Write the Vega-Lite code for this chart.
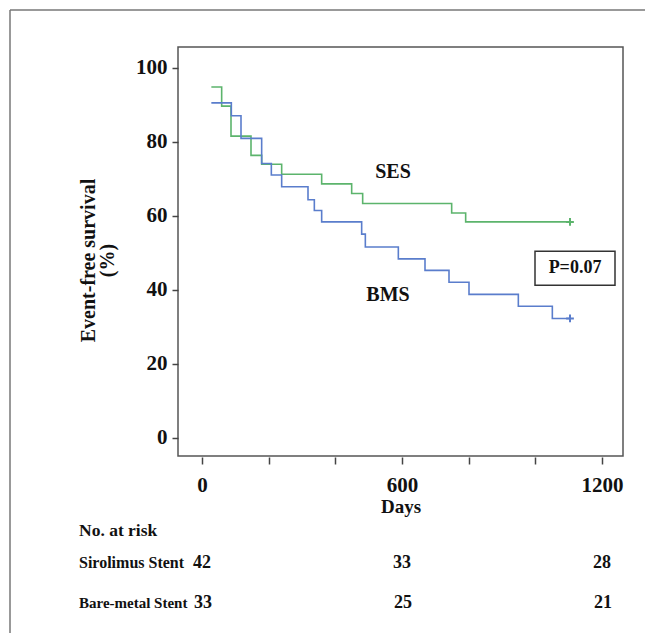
{
  "$schema": "https://vega.github.io/schema/vega-lite/v6.json",
  "width": 445,
  "height": 409,
  "autosize": {"type": "none"},
  "padding": {"left": 178, "top": 47, "right": 22, "bottom": 177},
  "background": "white",
  "config": {
    "view": {"stroke": "#555555", "strokeWidth": 1.5},
    "font": "Liberation Serif",
    "text": {"font": "Liberation Serif", "fontWeight": "bold", "color": "#111111"}
  },
  "datasets": {
    "km": [
      {"group": "SES", "day": 28, "surv": 94.8},
      {"group": "SES", "day": 59, "surv": 89.6},
      {"group": "SES", "day": 87, "surv": 81.5},
      {"group": "SES", "day": 147, "surv": 76.3},
      {"group": "SES", "day": 179, "surv": 73.9},
      {"group": "SES", "day": 239, "surv": 71.2},
      {"group": "SES", "day": 359, "surv": 68.6},
      {"group": "SES", "day": 449, "surv": 66.0},
      {"group": "SES", "day": 482, "surv": 63.3},
      {"group": "SES", "day": 749, "surv": 60.7},
      {"group": "SES", "day": 791, "surv": 58.3},
      {"group": "SES", "day": 1104, "surv": 58.3},
      {"group": "BMS", "day": 28, "surv": 90.5},
      {"group": "BMS", "day": 88, "surv": 87.0},
      {"group": "BMS", "day": 117, "surv": 80.9},
      {"group": "BMS", "day": 179, "surv": 74.1},
      {"group": "BMS", "day": 208, "surv": 71.0},
      {"group": "BMS", "day": 239, "surv": 67.8},
      {"group": "BMS", "day": 318, "surv": 64.3},
      {"group": "BMS", "day": 337, "surv": 61.4},
      {"group": "BMS", "day": 359, "surv": 58.3},
      {"group": "BMS", "day": 479, "surv": 55.0},
      {"group": "BMS", "day": 490, "surv": 51.5},
      {"group": "BMS", "day": 589, "surv": 48.3},
      {"group": "BMS", "day": 669, "surv": 45.2},
      {"group": "BMS", "day": 741, "surv": 42.0},
      {"group": "BMS", "day": 801, "surv": 38.7},
      {"group": "BMS", "day": 949, "surv": 35.5},
      {"group": "BMS", "day": 1051, "surv": 32.2},
      {"group": "BMS", "day": 1104, "surv": 32.2}
    ],
    "censor": [
      {"group": "SES", "day": 1104, "surv": 58.3},
      {"group": "BMS", "day": 1104, "surv": 32.2}
    ],
    "risk": [
      {"group": "Sirolimus Stent", "day": 0, "n": 42},
      {"group": "Sirolimus Stent", "day": 600, "n": 33},
      {"group": "Sirolimus Stent", "day": 1200, "n": 28},
      {"group": "Bare-metal Stent", "day": 0, "n": 33},
      {"group": "Bare-metal Stent", "day": 600, "n": 25},
      {"group": "Bare-metal Stent", "day": 1200, "n": 21}
    ],
    "one": [{}]
  },
  "layer": [
    {
      "data": {"name": "km"},
      "mark": {"type": "line", "interpolate": "step-after", "strokeWidth": 1.6},
      "encoding": {
        "x": {
          "field": "day", "type": "quantitative",
          "scale": {"domain": [-72, 1263], "nice": false, "zero": false},
          "axis": {
            "title": "Days", "values": [0, 200, 400, 600, 800, 1000, 1200],
            "labelExpr": "datum.value % 600 === 0 ? datum.label : ''",
            "format": "d",
            "grid": false, "domain": false, "offset": 1,
            "tickSize": 7, "tickWidth": 1.5, "tickColor": "#444444",
            "labelFont": "Liberation Serif", "labelFontWeight": "bold", "labelFontSize": 21, "labelColor": "#111111", "labelPadding": 10,
            "titleFont": "Liberation Serif", "titleFontWeight": "bold", "titleFontSize": 19, "titleColor": "#111111", "titlePadding": 2
          }
        },
        "y": {
          "field": "surv", "type": "quantitative",
          "scale": {"domain": [-5, 105.6], "nice": false, "zero": false},
          "axis": {
            "title": ["Event-free survival", "(%)"], "values": [0, 20, 40, 60, 80, 100],
            "grid": false, "domain": false,
            "tickSize": 6, "tickWidth": 1.5, "tickColor": "#444444",
            "labelFont": "Liberation Serif", "labelFontWeight": "bold", "labelFontSize": 21, "labelColor": "#111111", "labelPadding": 5,
            "titleFont": "Liberation Serif", "titleFontWeight": "bold", "titleFontSize": 20, "titleColor": "#111111", "titlePadding": 18, "titleLineHeight": 19, "titleY": 213
          }
        },
        "color": {
          "field": "group", "type": "nominal",
          "scale": {"domain": ["SES", "BMS"], "range": ["#5cb46c", "#5a7dcc"]},
          "legend": null
        }
      }
    },
    {
      "data": {"name": "censor"},
      "mark": {"type": "point", "shape": "M-1,0H1M0,-1V1", "size": 60, "filled": false, "strokeWidth": 2, "opacity": 1},
      "encoding": {
        "x": {"field": "day", "type": "quantitative"},
        "y": {"field": "surv", "type": "quantitative"},
        "color": {"field": "group", "type": "nominal", "legend": null}
      }
    },
    {
      "data": {"name": "one"},
      "mark": {"type": "text", "text": "SES", "fontSize": 20, "align": "center", "baseline": "middle"},
      "encoding": {"x": {"datum": 573}, "y": {"datum": 71.8}}
    },
    {
      "data": {"name": "one"},
      "mark": {"type": "text", "text": "BMS", "fontSize": 20, "align": "center", "baseline": "middle"},
      "encoding": {"x": {"datum": 558}, "y": {"datum": 38.5}}
    },
    {
      "data": {"name": "one"},
      "mark": {"type": "rect", "fill": "white", "stroke": "#333333", "strokeWidth": 1.5},
      "encoding": {"x": {"datum": 999}, "x2": {"datum": 1239}, "y": {"datum": 50.4}, "y2": {"datum": 41.2}}
    },
    {
      "data": {"name": "one"},
      "mark": {"type": "text", "text": "P=0.07", "fontSize": 18, "align": "center", "baseline": "middle"},
      "encoding": {"x": {"datum": 1119}, "y": {"datum": 45.8}}
    },
    {
      "data": {"name": "one"},
      "mark": {"type": "rule", "stroke": "#777777", "strokeWidth": 1.5},
      "encoding": {"x": {"datum": -576}, "y": {"datum": 115.6}, "y2": {"datum": -53}}
    },
    {
      "data": {"name": "one"},
      "mark": {"type": "rule", "stroke": "#777777", "strokeWidth": 1.5},
      "encoding": {"x": {"datum": -576}, "x2": {"datum": 1329}, "y": {"datum": 115.6}}
    },
    {
      "data": {"name": "one"},
      "mark": {"type": "text", "text": "No. at risk", "fontSize": 17.5, "align": "left", "baseline": "middle"},
      "encoding": {"x": {"datum": -369}, "y": {"datum": -25.3}}
    },
    {
      "data": {"name": "one"},
      "mark": {"type": "text", "text": "Sirolimus Stent", "fontSize": 16, "align": "left", "baseline": "middle"},
      "encoding": {"x": {"datum": -369}, "y": {"datum": -34.0}}
    },
    {
      "data": {"name": "one"},
      "mark": {"type": "text", "text": "Bare-metal Stent", "fontSize": 15, "align": "left", "baseline": "middle"},
      "encoding": {"x": {"datum": -369}, "y": {"datum": -44.8}}
    },
    {
      "data": {"name": "risk"},
      "transform": [{"filter": "datum.group === 'Sirolimus Stent'"}],
      "mark": {"type": "text", "fontSize": 18, "align": "center", "baseline": "middle"},
      "encoding": {
        "x": {"field": "day", "type": "quantitative"},
        "y": {"datum": -34.0},
        "text": {"field": "n", "type": "quantitative"}
      }
    },
    {
      "data": {"name": "risk"},
      "transform": [{"filter": "datum.group === 'Bare-metal Stent'"}],
      "mark": {"type": "text", "fontSize": 18, "align": "center", "baseline": "middle", "dx": 1},
      "encoding": {
        "x": {"field": "day", "type": "quantitative"},
        "y": {"datum": -44.8},
        "text": {"field": "n", "type": "quantitative"}
      }
    }
  ]
}
